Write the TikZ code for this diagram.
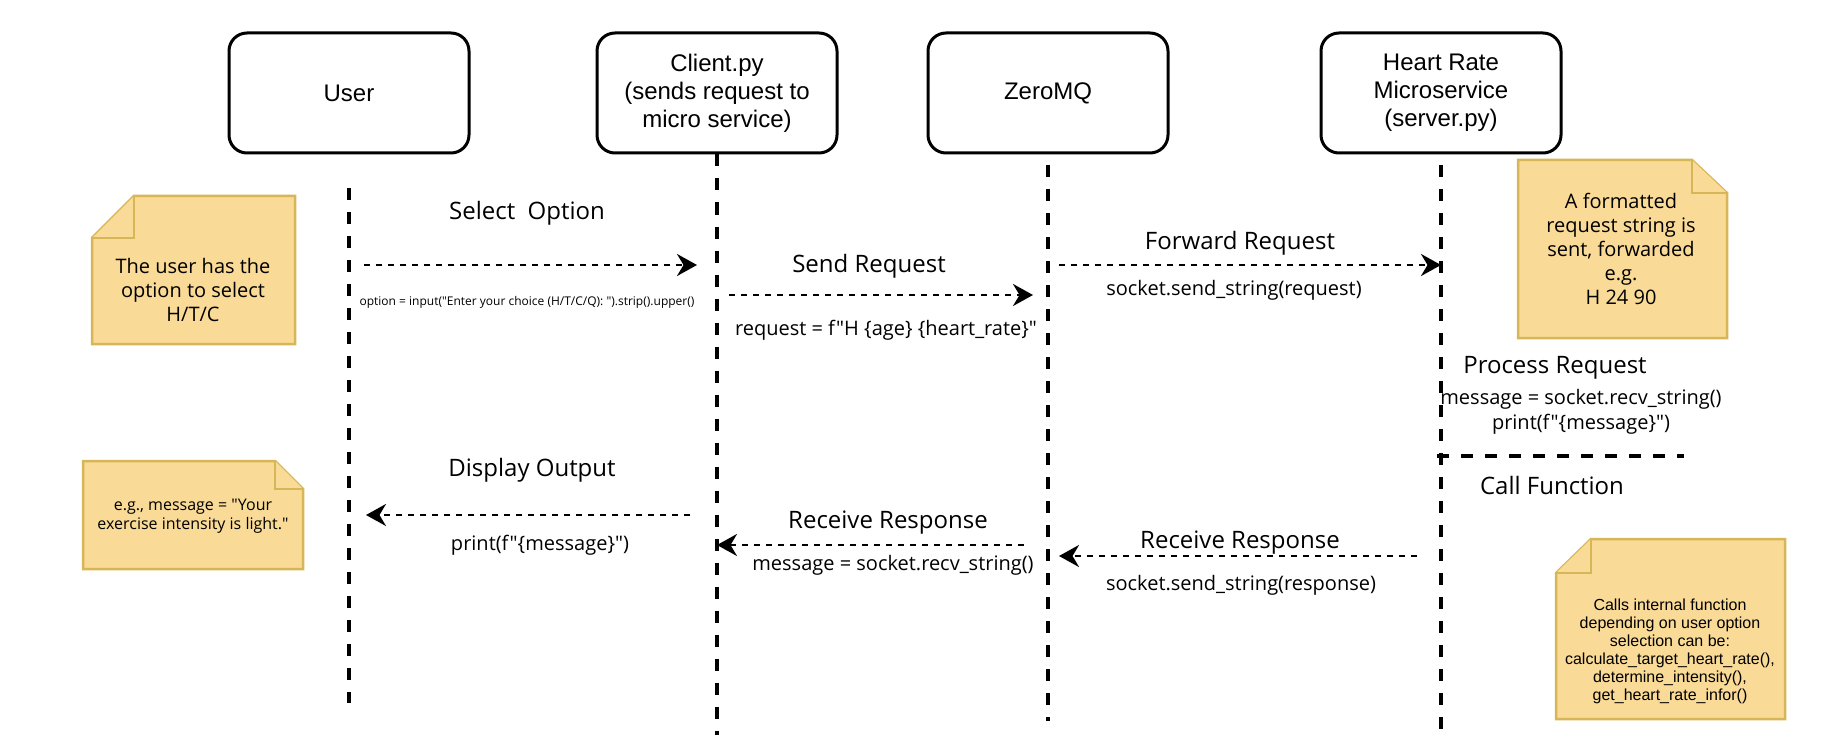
\documentclass[tikz,border=0pt]{standalone}
\usepackage{fontspec}
\setmainfont{Open Sans}[Ligatures=TeXOff]
\newfontfamily\arialfont{Liberation Sans}[Ligatures=TeXOff]
\usetikzlibrary{arrows.meta}
\usetikzlibrary{positioning}
\definecolor{notefill}{RGB}{249,218,150}
\definecolor{notedraw}{RGB}{214,182,86}

\begin{document}
\begin{tikzpicture}[x=1pt,y=-1pt,
  actor/.style={draw,rounded corners=18pt,line width=3pt,minimum width=240pt,minimum height=120pt,align=center,font=\arialfont\fontsize{24}{28}\selectfont},
  lifeline/.style={line width=3.5pt,dash pattern=on 12pt off 12pt},
  msg/.style={line width=2.5pt,dash pattern=on 6pt off 6pt,-{Stealth[length=20pt,width=22pt]}},
  lbl/.style={inner sep=0pt,font=\fontsize{24}{29}\selectfont},
  code/.style={inner sep=0pt,align=center,font=\fontsize{20}{25}\selectfont},
  note/.style={fill=notefill,draw=notedraw,line width=2.5pt},
  notetext/.style={inner sep=0pt,align=center,font=\fontsize{20}{24}\selectfont}]
\useasboundingbox (0,0) rectangle (1822,746);

% participants
\node[actor] (user) at (349,93) {User};
\node[actor] (client) at (717,93) {Client.py\\(sends request to\\micro service)};
\node[actor] (zmq) at (1048,93) {ZeroMQ};
\node[actor] (hrm) at (1441,93) {Heart Rate\\Microservice\\(server.py)};

% lifelines
\coordinate (user-top) at (349,188);
\coordinate (user-end) at (349,703);
\coordinate (client-end) at (717,735);
\coordinate (zmq-top) at (1048,165);
\coordinate (zmq-end) at (1048,721);
\coordinate (hrm-top) at (1441,165);
\coordinate (hrm-end) at (1441,730);
\draw[lifeline] (user-top) -- (user-end);
\draw[lifeline] (client.south) -- (client-end);
\draw[lifeline] (zmq-top) -- (zmq-end);
\draw[lifeline] (hrm-top) -- (hrm-end);

% notes
\draw[note] (134,196) -- (295,196) -- (295,344) -- (92,344) -- (92,238) -- cycle;
\draw[note] (92,238) -- (134,238) -- (134,196);
\node[notetext] (note-user) at (193,290) {The user has the\\option to select\\H/T/C};

\draw[note] (83,461) -- (275,461) -- (303,489) -- (303,569) -- (83,569) -- cycle;
\draw[note] (275,461) -- (275,489) -- (303,489);
\node[notetext,font=\fontsize{16}{19}\selectfont] (note-out) at (193,516) {e.g., message = "Your\\exercise intensity is light."};

\draw[note] (1518,160) -- (1692,160) -- (1727,193) -- (1727,338) -- (1518,338) -- cycle;
\draw[note] (1692,160) -- (1692,193) -- (1727,193);
\node[notetext] (note-req) at (1621,249) {A formatted\\request string is\\sent, forwarded\\e.g.\\H 24 90};

\draw[note] (1591,539) -- (1785,539) -- (1785,719) -- (1556,719) -- (1556,573) -- cycle;
\draw[note] (1556,573) -- (1591,573) -- (1591,539);
\node[notetext,font=\arialfont\fontsize{16}{18}\selectfont] (note-call) at (1670,651) {Calls internal function\\depending on user option\\selection can be:\\calculate\_target\_heart\_rate(),\\determine\_intensity(),\\get\_heart\_rate\_infor()};

% requests
\coordinate (m1a) at (364,265);
\coordinate (m1b) at (697,265);
\draw[msg] (m1a) -- (m1b);
\node[lbl] (select) at (527,213) {Select\ \ Option};
\node[code,font=\fontsize{12}{14}\selectfont] (select-code) at (527,302) {option = input("Enter your choice (H/T/C/Q): ").strip().upper()};

\coordinate (m2a) at (729,295);
\coordinate (m2b) at (1033,295);
\draw[msg] (m2a) -- (m2b);
\node[lbl] (send) at (869,266) {Send Request};
\node[code] (send-code) at (886,330) {request = f"H \{age\} \{heart\_rate\}"};

\coordinate (m3a) at (1059,265);
\coordinate (m3b) at (1441,265);
\draw[msg] (m3a) -- (m3b);
\node[lbl] (fwd) at (1240,243) {Forward Request};
\node[code] (fwd-code) at (1234,290) {socket.send\_string(request)};

% server side
\node[lbl] (proc) at (1555,368) {Process Request};
\node[code] (proc-code) at (1581,412) {message = socket.recv\_string()\\print(f"\{message\}")};
\coordinate (sep-a) at (1437,456);
\coordinate (sep-b) at (1684,456);
\draw[lifeline] (sep-a) -- (sep-b);
\node[lbl] (call) at (1552,485) {Call Function};

% responses
\coordinate (m9a) at (1417,556);
\coordinate (m9b) at (1059,556);
\draw[msg] (m9a) -- (m9b);
\node[lbl] (recv2) at (1240,543) {Receive Response};
\node[code] (recv2-code) at (1241,585) {socket.send\_string(response)};

\coordinate (m8a) at (1024,545);
\coordinate (m8b) at (717,545);
\draw[msg] (m8a) -- (m8b);
\node[lbl] (recv1) at (888,523) {Receive Response};
\node[code] (recv1-code) at (893,565) {message = socket.recv\_string()};

\coordinate (m7a) at (690,515);
\coordinate (m7b) at (366,515);
\draw[msg] (m7a) -- (m7b);
\node[lbl] (disp) at (532,470) {Display Output};
\node[code] (disp-code) at (540,545) {print(f"\{message\}")};

\end{tikzpicture}
\end{document}
